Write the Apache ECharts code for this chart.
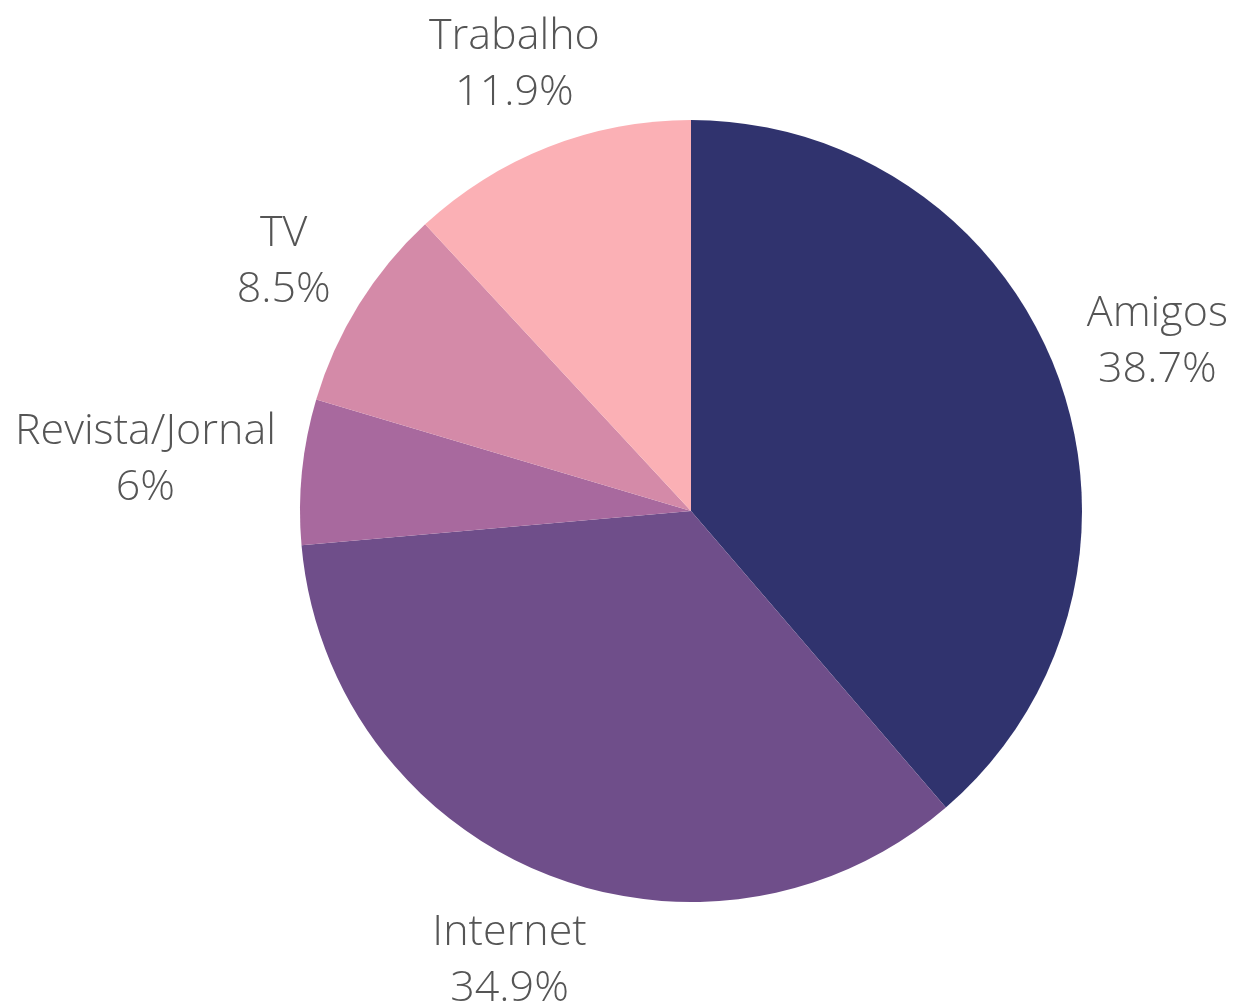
<!DOCTYPE html>
<html><head><meta charset="utf-8">
<script src="https://cdn.jsdelivr.net/npm/echarts@6/dist/echarts.min.js"></script>
<style>html,body{margin:0;padding:0;background:#fff}#c{width:1236px;height:1004px}</style>
</head><body><div id="c"></div>
<script>
const categories = ['Amigos', 'Internet', 'Revista/Jornal', 'TV', 'Trabalho'];
const values = [38.7, 34.9, 6, 8.5, 11.9];
const percentLabels = ['38.7%', '34.9%', '6%', '8.5%', '11.9%'];
const colors = ['#30336e', '#6f4e8a', '#a8699e', '#d48aa8', '#fbb0b5'];

const CX = 691, CY = 511, R = 391;
const total = values.reduce((a, b) => a + b, 0);
const midAngles = [];
let acc = 0;
values.forEach(v => { midAngles.push((acc + v / 2) / total * 2 * Math.PI); acc += v; });

const chart = echarts.init(document.getElementById('c'), null, {renderer: 'canvas'});
chart.setOption({
  backgroundColor: '#ffffff',
  animation: false,
  series: [{
    type: 'pie',
    center: [CX, CY],
    radius: [0, R],
    startAngle: 90,
    clockwise: true,
    avoidLabelOverlap: false,
    data: categories.map((c, i) => ({name: c, value: values[i], itemStyle: {color: colors[i]}})),
    label: {
      show: true,
      position: 'outside',
      formatter: p => p.name + '\n' + percentLabels[p.dataIndex],
      fontFamily: 'Open Sans',
      fontSize: 43,
      fontWeight: 300,
      lineHeight: 56,
      color: '#555555',
      align: 'center',
      overflow: 'none'
    },
    labelLine: {show: false},
    emphasis: {disabled: true},
    labelLayout: function (params) {
      const i = params.dataIndex;
      const a = midAngles[i];
      const dx = Math.sin(a), dy = -Math.cos(a);
      const w = params.labelRect.width, h = params.labelRect.height;
      const ext = Math.abs(dx) * w / 2 + Math.abs(dy) * h / 2;
      const pad = 2 + 20 * Math.abs(dx);
      const d = R + pad + ext;
      return {
        x: CX + dx * d,
        y: CY + dy * d + 4,
        align: 'center',
        verticalAlign: 'middle'
      };
    }
  }]
});
</script></body></html>
